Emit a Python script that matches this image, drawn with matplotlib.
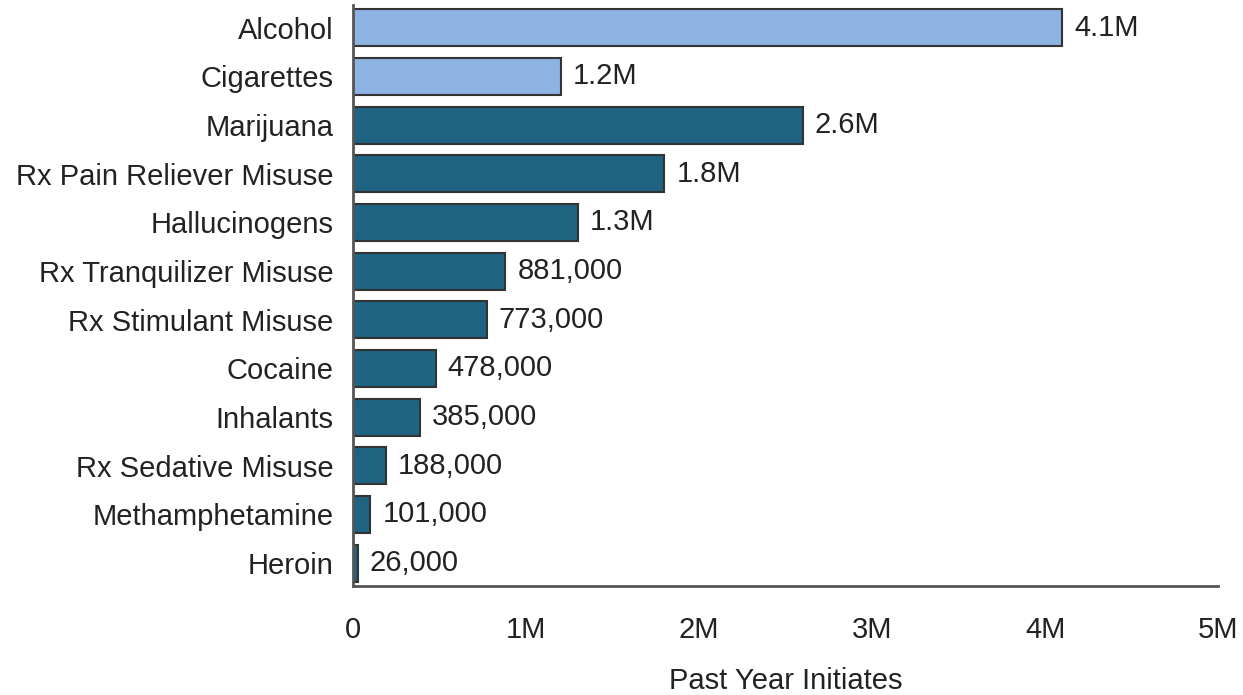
import matplotlib.pyplot as plt

categories = ['Alcohol', 'Cigarettes', 'Marijuana', 'Rx Pain Reliever Misuse', 'Hallucinogens',
              'Rx Tranquilizer Misuse', 'Rx Stimulant Misuse', 'Cocaine', 'Inhalants',
              'Rx Sedative Misuse', 'Methamphetamine', 'Heroin']
values = [4100000, 1200000, 2600000, 1800000, 1300000, 881000, 773000, 478000, 385000,
          188000, 101000, 26000]
value_labels = ['4.1M', '1.2M', '2.6M', '1.8M', '1.3M', '881,000', '773,000', '478,000',
                '385,000', '188,000', '101,000', '26,000']
xticks = [0, 1000000, 2000000, 3000000, 4000000, 5000000]
xtick_labels = ['0', '1M', '2M', '3M', '4M', '5M']

plt.rcParams['font.family'] = ['Liberation Sans', 'DejaVu Sans']

light = '#8db3e2'
dark = '#1e6482'
colors = [light, light] + [dark] * 10
fs = 21

fig = plt.figure(figsize=(12.43, 6.95), dpi=100)
ax = fig.add_axes([0.284, 0.157, 0.696, 0.836])

y = list(range(len(categories)))
ax.barh(y, values, height=0.76, color=colors, edgecolor='#333333', linewidth=1.5)
for yi, v, lab in zip(y, values, value_labels):
    ax.text(v + 70000, yi, lab, va='center', ha='left', fontsize=fs, color='#222222')

ax.set_ylim(11.47, -0.47)
ax.set_xlim(0, 5000000)
ax.set_yticks(y)
ax.set_yticklabels(categories, fontsize=fs, color='#222222')
ax.set_xticks(xticks)
ax.set_xticklabels(xtick_labels, fontsize=fs, color='#222222')
ax.tick_params(length=0)
ax.tick_params(axis='y', pad=14)
ax.tick_params(axis='x', pad=22)
ax.set_xlabel('Past Year Initiates', fontsize=fs, color='#222222', labelpad=16)
for s in ['top', 'right']:
    ax.spines[s].set_visible(False)
for s in ['left', 'bottom']:
    ax.spines[s].set_color('#555555')
    ax.spines[s].set_linewidth(2)

fig.savefig('out.png', dpi=100)
